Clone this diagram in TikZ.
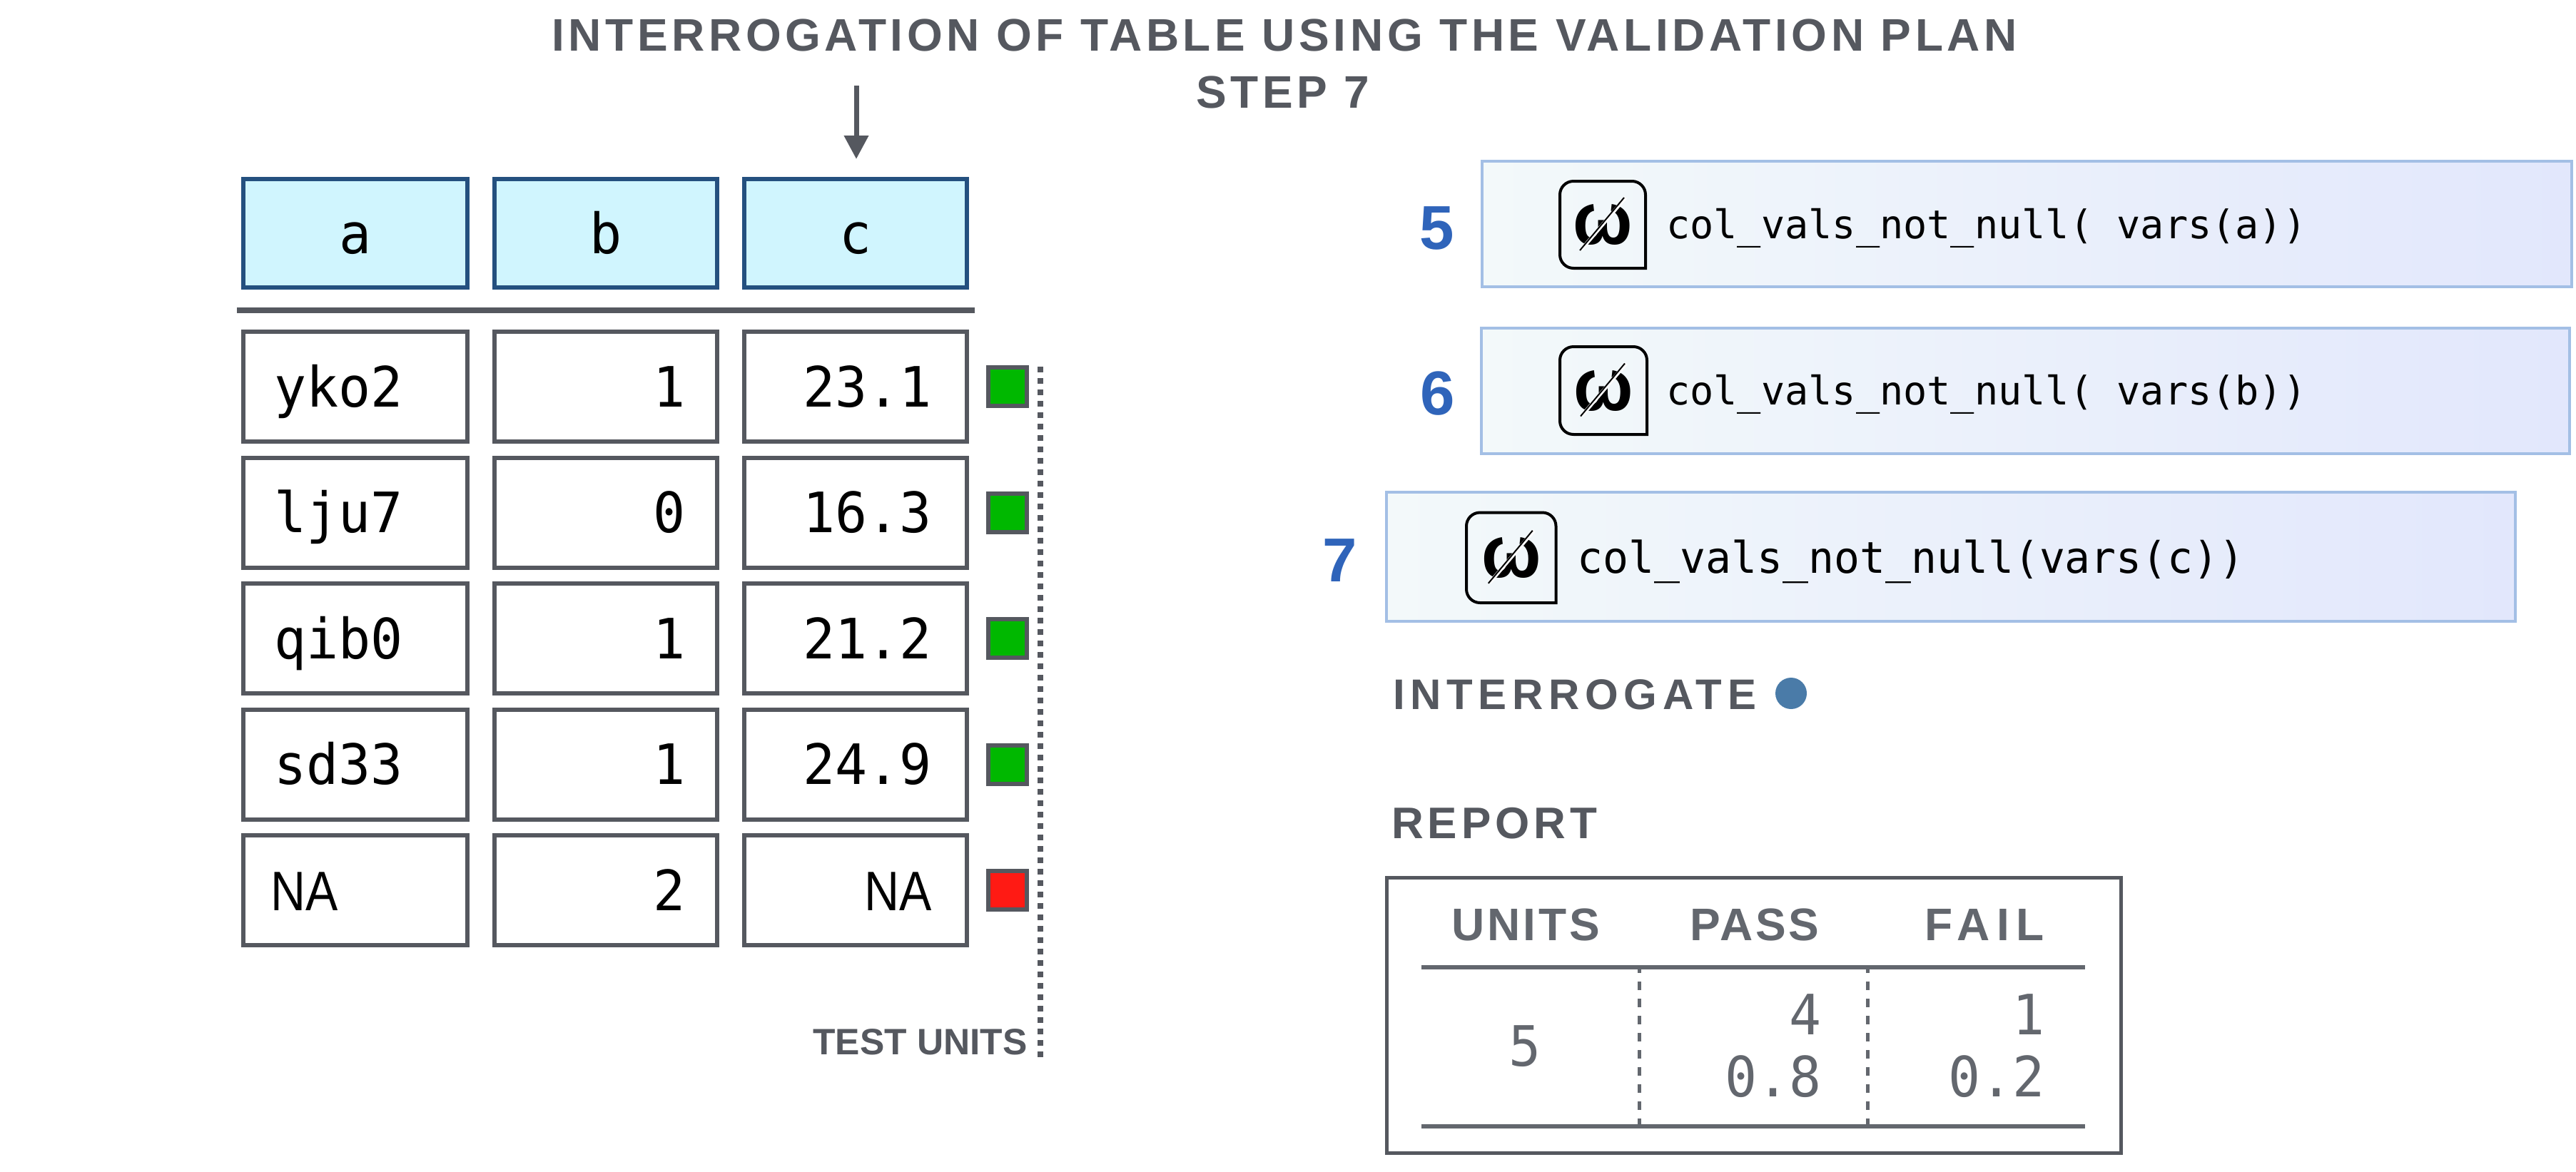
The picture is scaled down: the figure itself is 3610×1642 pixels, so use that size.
\documentclass[tikz,border=0pt]{standalone}
\usepackage{fontspec}
\usetikzlibrary{arrows.meta}
\setmainfont{Liberation Sans}
\newfontfamily\cellfont[FakeStretch=0.96]{DejaVu Sans Mono}
\newfontfamily\nafont[FakeStretch=0.87]{Liberation Sans}
\newfontfamily\codefont{DejaVu Sans Mono}
\newfontfamily\codebfont[FakeStretch=0.98]{DejaVu Sans Mono}
\newfontfamily\titlefont[LetterSpace=8.8,Ligatures=NoCommon]{Liberation Sans Bold}
\newfontfamily\headfont[LetterSpace=6,Ligatures=NoCommon]{Liberation Sans Bold}
\newfontfamily\intfont[LetterSpace=12.8,Ligatures=NoCommon]{Liberation Sans Bold}
\newfontfamily\repfont[LetterSpace=9.5,Ligatures=NoCommon]{Liberation Sans Bold}
\newfontfamily\failfont[LetterSpace=15,Ligatures=NoCommon]{Liberation Sans Bold}
\newfontfamily\plainbold{Liberation Sans Bold}
\newfontfamily\omegafont[FakeStretch=0.95]{Liberation Sans Bold}
\definecolor{ink}{HTML}{55585F}
\definecolor{repink}{HTML}{63676E}
\definecolor{headfill}{HTML}{D0F5FE}
\definecolor{headline}{HTML}{24507F}
\definecolor{planline}{HTML}{A3BFE5}
\definecolor{planleft}{HTML}{F3F9FA}
\definecolor{planright}{HTML}{E2E7FC}
\definecolor{okgreen}{HTML}{00B800}
\definecolor{badred}{HTML}{FF1A14}
\definecolor{stepblue}{HTML}{2F64BA}
\definecolor{dotblue}{HTML}{4A7BA8}
\newcommand{\fsz}[1]{\fontsize{#1}{#1}\selectfont}
\newcommand{\natext}{{\nafont NA}}
\tikzset{
  cellbase/.style={draw=ink,line width=6pt,fill=white,inner xsep=43pt,inner ysep=0pt,outer sep=0pt,
     minimum height=154pt,text width=226pt,text height=56pt,text depth=0pt,font=\cellfont\fsz{78}},
  headcell/.style={cellbase,draw=headline,fill=headfill,align=center,minimum height=152pt},
  leftcell/.style={cellbase,align=left,text width=228pt},
  rightcell/.style={cellbase,align=right,execute at end node={\hspace*{#1}}},
  rightcell/.default=6pt,
  flag/.style={draw=ink,line width=6pt,inner sep=0pt,outer sep=0pt,minimum width=54pt,minimum height=54pt},
  planbox/.style={draw=planline,line width=4pt,left color=planleft,right color=planright,inner sep=0pt,outer sep=0pt},
  codetext/.style={anchor=base west,inner sep=0pt,font=\codefont\fsz{55.2}},
  stepnum/.style={anchor=base,inner sep=0pt,text=stepblue,font=\plainbold\fsz{87}},
  titletext/.style={anchor=base,inner sep=0pt,text=ink,font=\titlefont\fsz{64}},
  reptext/.style={anchor=base,inner sep=0pt,text=repink,font=\headfont\fsz{64}},
  repnum/.style={anchor=base east,inner sep=0pt,text=repink,font=\cellfont\fsz{78}},
  ruleline/.style={draw=repink,line width=6pt},
  dashrule/.style={draw=repink,line width=5pt,dash pattern=on 12pt off 12pt,dash phase=6pt},
  iconbox/.style={draw=black,line width=4pt,rounded corners=19pt,line cap=rect},
}
% name x0 y0 x1 y1
\newcommand{\iconat}[5]{%
  \draw[iconbox] (#4,#5) -- (#4,#3) -- (#2,#3) -- (#2,#5) -- (#4,#5);
  \coordinate (#1c) at ({(#2+#4)/2},{(#3+#5)/2});
  \node[inner sep=0pt,font=\omegafont\fsz{104}] (#1g) at (#1c) {ω};
  \draw[white,line width=5pt] ([shift={(-30,35)}]#1c) -- ([shift={(32,-38)}]#1c);
  \draw[black,line width=2pt] ([shift={(-32,36)}]#1c) -- ([shift={(30,-38)}]#1c);
}
\begin{document}
\begin{tikzpicture}[x=1pt,y=-1pt]
\useasboundingbox (0,0) rectangle (3610,1642);
% title
\node[titletext] (t1) at (1800,71) {INTERROGATION OF TABLE USING THE VALIDATION PLAN};
\node[titletext] (t2) at (1798,151) {STEP 7};
% header
\node[headcell,text width=228pt] (ha) at (498,327) {a};
\node[headcell] (hb) at (849,327) {b};
\node[headcell] (hc) at (1199,327) {c};
\coordinate (arrowtop) at (1200,120);
\draw[ink,line width=7pt,-{Stealth[length=33pt,width=33pt,inset=0pt]},shorten >=28pt] (arrowtop) -- (arrowtop |- hc.north);
\coordinate (ruleL) at (332,434.5);
\coordinate (ruleR) at (1366,434.5);
\draw[ink,line width=8pt] (ruleL) -- (ruleR);
% rows
\node[leftcell] (a1) at (498,542) {yko2};
\node[rightcell=1pt] (b1) at (849,542) {1};
\node[rightcell] (c1) at (1199,542) {23.1};
\node[flag,fill=okgreen] (f1) at (1412,542) {};
\node[leftcell] (a2) at (498,718.5) {lju7};
\node[rightcell=1pt] (b2) at (849,718.5) {0};
\node[rightcell] (c2) at (1199,718.5) {16.3};
\node[flag,fill=okgreen] (f2) at (1412,718.5) {};
\node[leftcell] (a3) at (498,895) {qib0};
\node[rightcell=1pt] (b3) at (849,895) {1};
\node[rightcell] (c3) at (1199,895) {21.2};
\node[flag,fill=okgreen] (f3) at (1412,895) {};
\node[leftcell] (a4) at (498,1071.5) {sd33};
\node[rightcell=1pt] (b4) at (849,1071.5) {1};
\node[rightcell] (c4) at (1199,1071.5) {24.9};
\node[flag,fill=okgreen] (f4) at (1412,1071.5) {};
\node[leftcell] (a5) at (498,1248) {\hspace*{-5pt}\natext};
\node[rightcell=1pt] (b5) at (849,1248) {2};
\node[rightcell] (c5) at (1199,1248) {\natext};
\node[flag,fill=badred] (f5) at (1412,1248) {};
\coordinate (dotT) at (1458,514);
\coordinate (dotB) at (1458,1482);
\draw[ink,line width=8pt,dash pattern=on 8pt off 8pt] (dotT) -- (dotB);
\node[anchor=base east,inner sep=0pt,text=ink,font=\plainbold\fsz{51.5}] (tu) at (1440,1478) {TEST UNITS};
% plan
\node[stepnum] (n5) at (2014,349) {5};
\node[planbox,minimum width=1527pt,minimum height=176pt] (p5) at (3606-2-763.5,314) {};
\iconat{i5}{2186}{254}{2306}{376}
\node[codetext] (code5) at (2335,334) {col\_vals\_not\_null( vars(a))};
\node[stepnum] (n6) at (2015,581) {6};
\node[planbox,minimum width=1525pt,minimum height=176pt] (p6) at (3603-2-762.5,548) {};
\iconat{i6}{2186}{486}{2308}{609}
\node[codetext] (code6) at (2335,567) {col\_vals\_not\_null( vars(b))};
\node[stepnum] (n7) at (1878,815) {7};
\node[planbox,minimum width=1582pt,minimum height=181pt] (p7) at (1943+791,780.5) {};
\iconat{i7}{2055}{718.5}{2180.5}{845}
\node[codetext,font=\codebfont\fsz{61}] (code7) at (2210,803) {col\_vals\_not\_null(vars(c))};
% interrogate
\node[anchor=base west,inner sep=0pt,text=ink,font=\intfont\fsz{60}] (int) at (1952,994) {INTERROGATE};
\node[circle,fill=dotblue,inner sep=0pt,minimum size=44pt] (dot) at (2510,972) {};
% report
\node[anchor=base west,inner sep=0pt,text=ink,font=\repfont\fsz{62}] (rep) at (1950,1175) {REPORT};
\node[draw=ink,line width=5pt,minimum width=1029pt,minimum height=386pt,inner sep=0pt,outer sep=0pt] (rbox) at (2457.5,1423) {};
\node[reptext] (uu) at (2138,1318) {UNITS};
\node[reptext] (up) at (2459,1318) {PASS};
\node[reptext,font=\failfont\fsz{64}] (uf) at (2781,1318) {FAIL};
\coordinate (r1L) at (1992,1355.5);
\coordinate (r1R) at (2922,1355.5);
\coordinate (r2L) at (1992,1579);
\coordinate (r2R) at (2922,1579);
\draw[ruleline] (r1L) -- (r1R);
\draw[ruleline] (r2L) -- (r2R);
\coordinate (d1T) at (2297,1358);
\coordinate (d1B) at (2297,1577);
\coordinate (d2T) at (2617,1358);
\coordinate (d2B) at (2617,1577);
\draw[dashrule] (d1T) -- (d1B);
\draw[dashrule] (d2T) -- (d2B);
\node[repnum,anchor=base] (v5) at (2137,1494) {5};
\node[repnum] (v4) at (2553,1450) {4};
\node[repnum] (v08) at (2553,1537) {0.8};
\node[repnum] (v1) at (2866,1450) {1};
\node[repnum] (v02) at (2866,1537) {0.2};
\end{tikzpicture}
\end{document}
